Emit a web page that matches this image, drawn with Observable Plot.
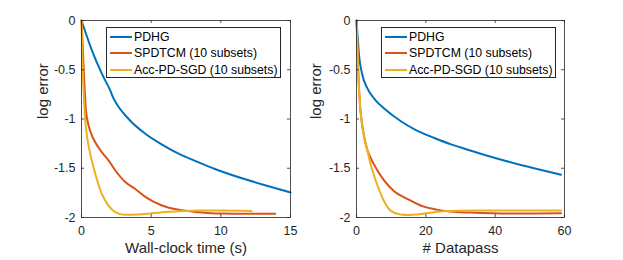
<!DOCTYPE html>
<html><head><meta charset="utf-8">
<script src="https://cdn.jsdelivr.net/npm/d3@7"></script>
<script src="https://cdn.jsdelivr.net/npm/@observablehq/plot@0.6"></script>
<style>
body{margin:0;background:#fff;font-family:"Liberation Sans",Arial,sans-serif;}
#wrap{position:relative;width:623px;height:260px;display:flex;overflow:hidden;}
#wrap svg{display:block;}
.legend{position:absolute;background:#fff;border:0.8px solid #262626;box-sizing:border-box;font-size:12.3px;color:#000;width:175px;height:51px;top:27px;}
.row{position:absolute;left:0;height:16px;display:flex;align-items:center;white-space:nowrap;}
.sw{width:22px;height:2px;margin-left:3px;margin-right:2px;}
</style></head><body><div id="wrap"></div><script>
const seriesNames = ["PDHG", "SPDTCM (10 subsets)", "Acc-PD-SGD (10 subsets)"];
const seriesColors = ["#0072BD", "#D95319", "#EDB120"];
const xTicksTime = [0, 5, 10, 15];
const xTicksPass = [0, 20, 40, 60];
const yTicks = [0, -0.5, -1, -1.5, -2];
const xLabelTime = "Wall-clock time (s)";
const xLabelPass = "# Datapass";
const yLabel = "log error";

// Left panel: wall-clock time
const timePDHG = [0, 0.74, 1.46, 2.06, 2.3, 2.54, 3.38, 4.58, 5.78, 7.0, 8.42, 9.53, 11.93, 13.5, 15];
const errTimePDHG = [0, -0.30, -0.54, -0.71, -0.79, -0.85, -1.0, -1.15, -1.26, -1.355, -1.44, -1.505, -1.62, -1.685, -1.745];
const timeSPDTCM = [0, 0.1, 0.2, 0.31, 0.45, 0.62, 1.22, 1.94, 2.42, 3.14, 3.86, 4.58, 5.78, 6.98, 8.42, 10, 12, 13.9];
const errTimeSPDTCM = [0, -0.3, -0.62, -0.9, -1.03, -1.12, -1.29, -1.42, -1.52, -1.64, -1.71, -1.79, -1.878, -1.922, -1.946, -1.96, -1.963, -1.963];
const timeAcc = [0, 0.05, 0.1, 0.14, 0.26, 0.4, 0.62, 0.98, 1.46, 1.94, 2.42, 3.1, 4.1, 5.78, 7.0, 8.4, 10, 12.2];
const errTimeAcc = [0, -0.3, -0.55, -0.68, -1.0, -1.18, -1.35, -1.55, -1.76, -1.88, -1.945, -1.973, -1.97, -1.946, -1.936, -1.93, -1.93, -1.935];

// Right panel: datapasses
const passPDHG = [0, 0.4, 0.7, 1.6, 3, 5.5, 7.9, 12.7, 17, 22.3, 27.1, 31, 38, 47.7, 59];
const errPassPDHG = [0, -0.2, -0.34, -0.54, -0.68, -0.81, -0.89, -1.02, -1.11, -1.19, -1.255, -1.30, -1.375, -1.47, -1.565];
const passSPDTCM = [0, 0.3, 0.6, 1.0, 1.6, 2.2, 3, 4, 6, 7.9, 10.75, 14.6, 19.4, 23.2, 27, 33, 45, 59];
const errPassSPDTCM = [0, -0.3, -0.6, -0.85, -1.05, -1.18, -1.3, -1.39, -1.52, -1.62, -1.73, -1.81, -1.89, -1.92, -1.94, -1.95, -1.96, -1.957];
const passAcc = [0, 0.3, 0.6, 1.0, 1.6, 2.2, 3, 4, 6, 7.9, 9.8, 12.7, 15, 17.5, 22.3, 27, 33, 45, 59];
const errPassAcc = [0, -0.3, -0.6, -0.85, -1.05, -1.18, -1.3, -1.45, -1.67, -1.83, -1.93, -1.97, -1.975, -1.97, -1.946, -1.935, -1.93, -1.93, -1.93];

function zipXY(xs, ys) { return xs.map((x, i) => ({x, y: ys[i]})); }

const FONT = '"Liberation Sans", Arial, sans-serif';

function panel({width, ml, mr, xDomain, xTicks, xLabel, yLabelDx, series}) {
  const mt = 20, mb = 43, H = 260;
  const fh = H - mt - mb, fw = width - ml - mr;
  const fmt = d => String(d);
  return Plot.plot({
    width, height: H, marginLeft: ml, marginRight: mr, marginTop: mt, marginBottom: mb,
    style: {fontFamily: FONT, fontSize: "12.5px", color: "#262626", background: "#fff", overflow: "visible"},
    x: {domain: xDomain},
    y: {domain: [-2, 0]},
    marks: [
      ...series.map((s, i) => Plot.line(zipXY(s[0], s[1]), {x: "x", y: "y", stroke: seriesColors[i], strokeWidth: 2, curve: "monotone-x"})),
      Plot.frame({stroke: "#262626", strokeWidth: 0.8}),
      Plot.axisX(xTicks, {anchor: "bottom", tickSize: 0, tickPadding: 9, tickFormat: fmt, label: null, fill: "#262626"}),
      Plot.axisY(yTicks, {anchor: "left", tickSize: 0, tickPadding: 6, tickFormat: fmt, label: null, fill: "#262626"}),
      Plot.tickX(xTicks, {x: d => d, insetTop: fh - 3, stroke: "#262626", strokeWidth: 0.8}),
      Plot.tickX(xTicks, {x: d => d, insetBottom: fh - 3, stroke: "#262626", strokeWidth: 0.8}),
      Plot.tickY(yTicks, {y: d => d, insetRight: fw - 3, stroke: "#262626", strokeWidth: 0.8}),
      Plot.tickY(yTicks, {y: d => d, insetLeft: fw - 3, stroke: "#262626", strokeWidth: 0.8}),
      Plot.text([xLabel], {frameAnchor: "bottom", lineAnchor: "middle", dy: 31, fontSize: 15, fill: "#262626"}),
      Plot.text([yLabel], {frameAnchor: "left", lineAnchor: "middle", dx: yLabelDx, rotate: -90, fontSize: 15, fill: "#262626"})
    ]
  });
}

const wrap = document.getElementById("wrap");
wrap.append(panel({
  width: 311, ml: 81, mr: 21, xDomain: [0, 15], xTicks: xTicksTime, xLabel: xLabelTime, yLabelDx: -38,
  series: [[timePDHG, errTimePDHG], [timeSPDTCM, errTimeSPDTCM], [timeAcc, errTimeAcc]]
}));
wrap.append(panel({
  width: 312, ml: 45, mr: 59, xDomain: [0, 60], xTicks: xTicksPass, xLabel: xLabelPass, yLabelDx: -40,
  series: [[passPDHG, errPassPDHG], [passSPDTCM, errPassSPDTCM], [passAcc, errPassAcc]]
}));

function legend(left) {
  const box = document.createElement("div");
  box.className = "legend";
  box.style.left = left + "px";
  const tops = [1, 17, 34];
  seriesNames.forEach((name, i) => {
    const row = document.createElement("div");
    row.className = "row";
    row.style.top = tops[i] + "px";
    const sw = document.createElement("div");
    sw.className = "sw";
    sw.style.background = seriesColors[i];
    const t = document.createElement("span");
    t.textContent = name;
    row.append(sw, t);
    box.append(row);
  });
  wrap.append(box);
}
legend(106);
legend(381);
</script></body></html>
